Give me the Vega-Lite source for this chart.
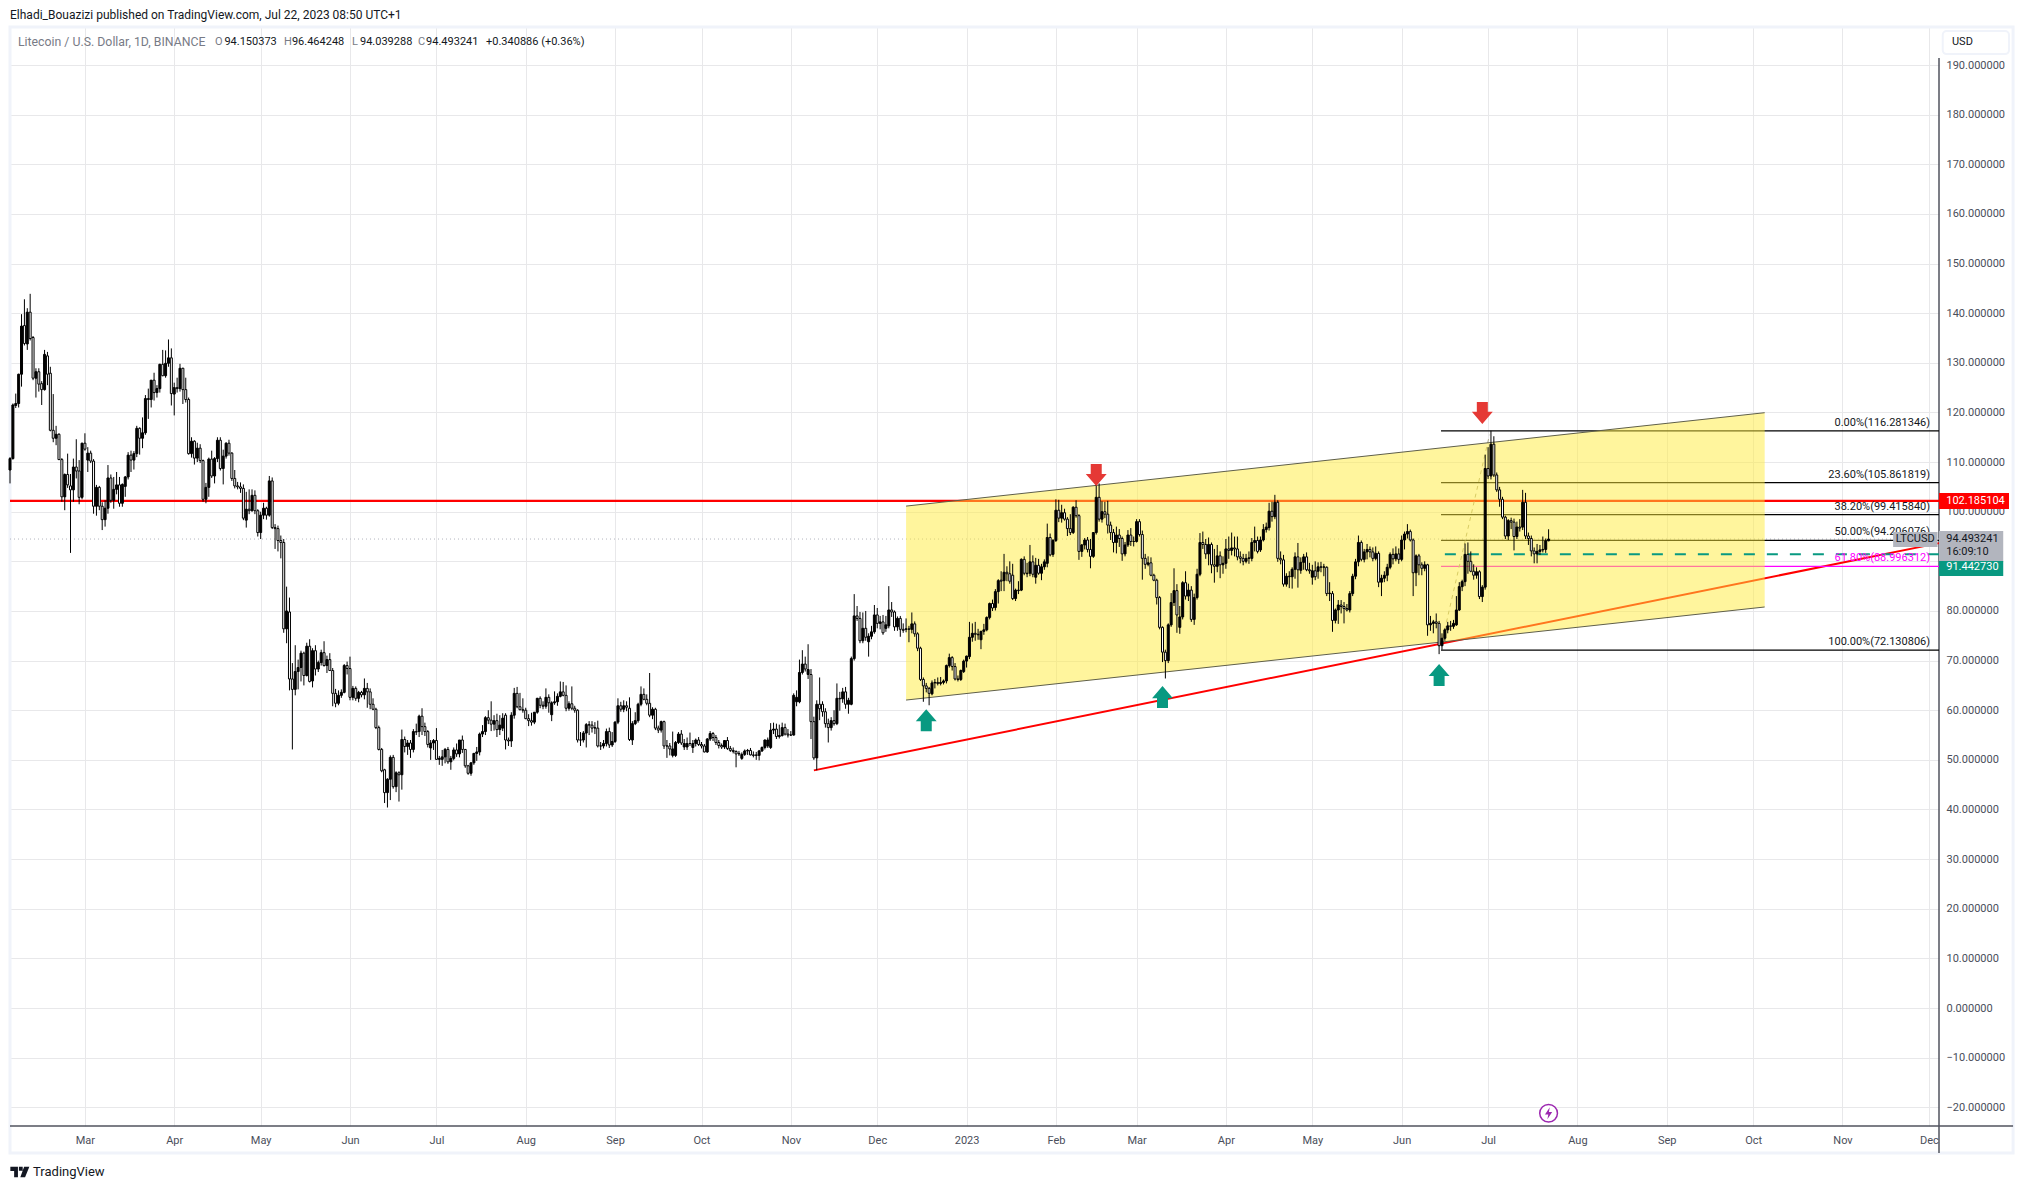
{"$schema":"https://vega.github.io/schema/vega-lite/v6.json","autosize":{"type":"none"},"padding":{"left":10,"top":27,"right":84,"bottom":63},"width":1929,"height":1099,"background":"#ffffff","view":{"stroke":null},"title":{"text":"Elhadi_Bouazizi published on TradingView.com, Jul 22, 2023 08:50 UTC+1","anchor":"start","frame":"group","offset":4,"font":"Roboto","fontSize":12,"fontWeight":"normal","color":"#131722"},"config":{"font":"Roboto"},
"datasets":{
"frame":[{"date":"2022-02-03","date2":"2023-12-30T05:00:00Z","price":197.66,"price2":-29.2}],
"axisLines":[{"date":"2023-12-04T12:00:00Z","date2":"2023-12-04T12:00:00Z","price":191.4,"price2":-29.2},{"date":"2022-02-03","date2":"2023-12-30T05:00:00Z","price":-23.77,"price2":-23.77}],
"hlines":[{"line":"last","date":"2022-02-03","date2":"2023-12-04T12:00:00Z","price":94.493241}],
"resistance":[{"date":"2022-02-03","date2":"2023-12-04T12:00:00Z","price":102.185104}],
"trend":[{"date":"2022-11-09","price":47.88},{"date":"2023-12-04T12:00:00Z","price":93.67}],
"fib":[{"level":"0.00%","date":"2023-06-14T16:00:00Z","date2":"2023-12-04T12:00:00Z","price":116.281346,"labelDate":"2023-12-01T10:00:00Z","label":"0.00%(116.281346)"},{"level":"23.60%","date":"2023-06-14T16:00:00Z","date2":"2023-12-04T12:00:00Z","price":105.861819,"labelDate":"2023-12-01T10:00:00Z","label":"23.60%(105.861819)"},{"level":"38.20%","date":"2023-06-14T16:00:00Z","date2":"2023-12-04T12:00:00Z","price":99.41584,"labelDate":"2023-12-01T10:00:00Z","label":"38.20%(99.415840)"},{"level":"50.00%","date":"2023-06-14T16:00:00Z","date2":"2023-12-04T12:00:00Z","price":94.206076,"labelDate":"2023-12-01T10:00:00Z","label":"50.00%(94.206076)"},{"level":"61.80%","date":"2023-06-14T16:00:00Z","date2":"2023-12-04T12:00:00Z","price":88.996312,"labelDate":"2023-12-01T10:00:00Z","label":"61.80%(88.996312)"},{"level":"100.00%","date":"2023-06-14T16:00:00Z","date2":"2023-12-04T12:00:00Z","price":72.130806,"labelDate":"2023-12-01T10:00:00Z","label":"100.00%(72.130806)"}],
"diag":[{"date":"2023-06-14T16:00:00Z","price":73},{"date":"2023-07-01T12:00:00Z","price":115.5}],
"channel":[{"date":"2022-12-11","lower":62.05,"upper":101.13},{"date":"2023-10-05","lower":80.8,"upper":119.95}],
"alert":[{"date":"2023-06-16","date2":"2023-12-04T12:00:00Z","price":91.44273}],
"upArrows":[{"date":"2022-12-18","price":58},{"date":"2023-03-10","price":62.66},{"date":"2023-06-14","price":67.1}],
"downArrows":[{"date":"2023-02-15","price":107.4},{"date":"2023-06-29","price":119.9}],
"tagBoxes":[{"tag":"red","date":"2023-12-04T12:00:00Z","date2":"2023-12-28T19:00:00Z","price":103.76,"price2":100.54},{"tag":"grey","date":"2023-12-04T12:00:00Z","date2":"2023-12-26T19:00:00Z","price":96.1,"price2":89.86},{"tag":"green","date":"2023-12-04T12:00:00Z","date2":"2023-12-26T19:00:00Z","price":90.06,"price2":87.04},{"tag":"grey","date":"2023-11-18T14:00:00Z","date2":"2023-12-04T00:00:00Z","price":95.9,"price2":92.88}],
"tagTexts":[{"tag":"white","date":"2023-12-07","price":102.15,"text":"102.185104"},{"tag":"dark","date":"2023-12-07","price":94.49,"text":"94.493241"},{"tag":"dark","date":"2023-12-07","price":91.87,"text":"16:09:10"},{"tag":"white","date":"2023-12-07","price":88.9,"text":"91.442730"}],
"symbolTag":[{"date":"2023-11-26T06:00:00Z","price":94.4,"text":"LTCUSD"}],
"usdBox":[{"date":"2023-12-05T19:00:00Z","date2":"2023-12-28T19:00:00Z","price":196.85,"price2":192.2}],
"usdText":[{"date":"2023-12-09","price":194.6,"text":"USD"}],
"header":[{"kind":"label","date":"2022-02-05T18:00:00Z","price":194.7,"text":"Litecoin / U.S. Dollar, 1D, BINANCE"},{"kind":"label","date":"2022-04-15T03:00:00Z","price":194.7,"text":"O"},{"kind":"value","date":"2022-04-18T10:00:00Z","price":194.7,"text":"94.150373"},{"kind":"label","date":"2022-05-09T02:00:00Z","price":194.7,"text":"H"},{"kind":"value","date":"2022-05-11T20:00:00Z","price":194.7,"text":"96.464248"},{"kind":"label","date":"2022-06-01T17:00:00Z","price":194.7,"text":"L"},{"kind":"value","date":"2022-06-04T11:00:00Z","price":194.7,"text":"94.039288"},{"kind":"label","date":"2022-06-24T14:00:00Z","price":194.7,"text":"C"},{"kind":"value","date":"2022-06-27T10:00:00Z","price":194.7,"text":"94.493241"},{"kind":"value","date":"2022-07-18T05:00:00Z","price":194.7,"text":"+0.340886 (+0.36%)"}],
"brandText":[{"date":"2022-02-11","price":-33.05,"text":"TradingView"}],
"brandLogo":[{"date":"2022-02-06T10:00:00Z","price":-33.05}],
"bolt":[{"date":"2023-07-22","price":-21.2}],
"candles":[
{"date":"2022-02-03","o":108.4,"h":111,"l":105.7,"c":110.7},{"date":"2022-02-04","o":110.7,"h":121.8,"l":110.5,"c":121.5},{"date":"2022-02-05","o":121.4,"h":123.8,"l":120.9,"c":121.8},{"date":"2022-02-06","o":121.8,"h":127.8,"l":121,"c":127.7},{"date":"2022-02-07","o":127.7,"h":139.8,"l":125.2,"c":137.4},{"date":"2022-02-08","o":137.5,"h":142.8,"l":133.5,"c":133.9},{"date":"2022-02-09","o":133.8,"h":141,"l":132.6,"c":140.2},{"date":"2022-02-10","o":140.2,"h":143.9,"l":134.5,"c":134.9},{"date":"2022-02-11","o":135.1,"h":135.4,"l":126.5,"c":126.9},{"date":"2022-02-12","o":126.9,"h":128.9,"l":123,"c":128.2},{"date":"2022-02-13","o":128.2,"h":128.9,"l":124.2,"c":125.7},{"date":"2022-02-14","o":125.8,"h":126.3,"l":121.5,"c":124.6},{"date":"2022-02-15","o":124.6,"h":132.6,"l":124.4,"c":131.7},{"date":"2022-02-16","o":131.4,"h":132.2,"l":125.5,"c":127.7},{"date":"2022-02-17","o":127.9,"h":129.2,"l":116.2,"c":116.4},{"date":"2022-02-18","o":116.4,"h":123.7,"l":114,"c":114.8},{"date":"2022-02-19","o":114.8,"h":117.3,"l":113.4,"c":115.6},{"date":"2022-02-20","o":115.6,"h":115.8,"l":110.4,"c":110.5},{"date":"2022-02-21","o":110.5,"h":110.8,"l":102,"c":103},{"date":"2022-02-22","o":103,"h":107.7,"l":100.3,"c":107.5},{"date":"2022-02-23","o":107.5,"h":111.7,"l":104.8,"c":105.4},{"date":"2022-02-24","o":105.2,"h":107.6,"l":91.7,"c":104.4},{"date":"2022-02-25","o":104.4,"h":110.7,"l":102,"c":109},{"date":"2022-02-26","o":109,"h":114.6,"l":106.7,"c":108.2},{"date":"2022-02-27","o":108.2,"h":110.4,"l":101.5,"c":102.9},{"date":"2022-02-28","o":102.9,"h":113.9,"l":102.5,"c":113.8},
{"date":"2022-03-01","o":113.8,"h":115.8,"l":112.3,"c":112.6},{"date":"2022-03-02","o":110.4,"h":113,"l":108,"c":111.8},{"date":"2022-03-03","o":111.8,"h":112.3,"l":109.8,"c":110.2},{"date":"2022-03-04","o":110.2,"h":110.6,"l":99.6,"c":101.1},{"date":"2022-03-05","o":101.1,"h":105.4,"l":99.2,"c":104.9},{"date":"2022-03-06","o":104.9,"h":105.2,"l":100.3,"c":101.1},{"date":"2022-03-07","o":101.1,"h":101.9,"l":96.3,"c":98.4},{"date":"2022-03-08","o":98.4,"h":102.3,"l":97,"c":100.7},{"date":"2022-03-09","o":100.7,"h":109.4,"l":99.6,"c":106.8},{"date":"2022-03-10","o":106.8,"h":107.5,"l":101.8,"c":102.3},{"date":"2022-03-11","o":102.3,"h":107,"l":100.6,"c":104.5},{"date":"2022-03-12","o":104.5,"h":108,"l":103.5,"c":105.4},{"date":"2022-03-13","o":105.4,"h":107,"l":101,"c":101.7},{"date":"2022-03-14","o":101.7,"h":105.7,"l":101,"c":105.5},{"date":"2022-03-15","o":105.1,"h":107.2,"l":103,"c":107},{"date":"2022-03-16","o":107,"h":112,"l":106.5,"c":111.4},{"date":"2022-03-17","o":111.4,"h":112.3,"l":108,"c":110.4},{"date":"2022-03-18","o":110.4,"h":112.2,"l":108.5,"c":111.7},{"date":"2022-03-19","o":111.7,"h":117.3,"l":111,"c":116.8},{"date":"2022-03-20","o":116.8,"h":117,"l":111.5,"c":114.8},{"date":"2022-03-21","o":114.8,"h":119,"l":112.8,"c":115.9},{"date":"2022-03-22","o":115.9,"h":123.5,"l":115.5,"c":122.8},{"date":"2022-03-23","o":122.8,"h":124.8,"l":118.7,"c":122.6},{"date":"2022-03-24","o":122.6,"h":126.5,"l":121,"c":126.5},{"date":"2022-03-25","o":126.5,"h":128,"l":122.4,"c":124},{"date":"2022-03-26","o":124,"h":125.5,"l":123,"c":124.8},{"date":"2022-03-27","o":124.8,"h":129.8,"l":124,"c":129.7},{"date":"2022-03-28","o":129.7,"h":132.6,"l":127.3,"c":127.4},{"date":"2022-03-29","o":127.4,"h":132.5,"l":127,"c":129.9},{"date":"2022-03-30","o":129.9,"h":134.7,"l":129.2,"c":131},{"date":"2022-03-31","o":131,"h":132.9,"l":121.4,"c":123.8},
{"date":"2022-04-01","o":123.7,"h":126,"l":119.4,"c":125},{"date":"2022-04-02","o":125,"h":127,"l":124,"c":124.8},{"date":"2022-04-03","o":124.8,"h":129.8,"l":124.2,"c":128.9},{"date":"2022-04-04","o":128.9,"h":129,"l":121.7,"c":124.6},{"date":"2022-04-05","o":124.6,"h":127,"l":122,"c":122.6},{"date":"2022-04-06","o":122.6,"h":123,"l":111.5,"c":111.7},{"date":"2022-04-07","o":111.7,"h":115,"l":110.9,"c":114.2},{"date":"2022-04-08","o":114.2,"h":114.4,"l":109.5,"c":110.8},{"date":"2022-04-09","o":110.8,"h":113.9,"l":110,"c":112.8},{"date":"2022-04-10","o":112.8,"h":113.6,"l":109.8,"c":110.3},{"date":"2022-04-11","o":110.3,"h":110.5,"l":102,"c":102.5},{"date":"2022-04-12","o":102.5,"h":105.8,"l":101.7,"c":104.9},{"date":"2022-04-13","o":104.9,"h":110.9,"l":103,"c":110.6},{"date":"2022-04-14","o":110.6,"h":112.3,"l":106.8,"c":107.2},{"date":"2022-04-15","o":107.2,"h":111,"l":105.7,"c":110.7},{"date":"2022-04-16","o":110.7,"h":115,"l":110,"c":114.4},{"date":"2022-04-17","o":114.4,"h":115,"l":108.3,"c":108.7},{"date":"2022-04-18","o":108.7,"h":112.5,"l":105.5,"c":111.2},{"date":"2022-04-19","o":111.2,"h":114,"l":110.7,"c":113.8},{"date":"2022-04-20","o":113.8,"h":114.5,"l":111.3,"c":111.8},{"date":"2022-04-21","o":111.8,"h":112,"l":106.2,"c":106.7},{"date":"2022-04-22","o":106.7,"h":108.4,"l":104.7,"c":105.2},{"date":"2022-04-23","o":105.2,"h":106,"l":104.5,"c":105},{"date":"2022-04-24","o":105,"h":105.9,"l":103.8,"c":104.7},{"date":"2022-04-25","o":104.7,"h":105.5,"l":98.3,"c":98.7},{"date":"2022-04-26","o":98.3,"h":104,"l":96.8,"c":100.5},{"date":"2022-04-27","o":100.5,"h":104.5,"l":99.5,"c":100.2},{"date":"2022-04-28","o":100.2,"h":104.5,"l":100,"c":103.3},{"date":"2022-04-29","o":103.3,"h":104.3,"l":99.5,"c":100.2},{"date":"2022-04-30","o":100.2,"h":100.5,"l":95,"c":95.8},
{"date":"2022-05-01","o":95.8,"h":100,"l":94.5,"c":99.3},{"date":"2022-05-02","o":99.3,"h":101.8,"l":98.5,"c":100.7},{"date":"2022-05-03","o":100.7,"h":101,"l":98.4,"c":99.3},{"date":"2022-05-04","o":99.3,"h":107.2,"l":99,"c":106.2},{"date":"2022-05-05","o":106.2,"h":106.9,"l":96.5,"c":96.8},{"date":"2022-05-06","o":96.8,"h":97.5,"l":92.5,"c":96.6},{"date":"2022-05-07","o":96.6,"h":97.2,"l":92,"c":94.2},{"date":"2022-05-08","o":94.2,"h":95.2,"l":90.6,"c":93.8},{"date":"2022-05-09","o":93.8,"h":94.5,"l":75.6,"c":76.4},{"date":"2022-05-10","o":76.4,"h":84.9,"l":73.5,"c":80},{"date":"2022-05-11","o":79.8,"h":82.7,"l":64,"c":66.3},{"date":"2022-05-12","o":66.3,"h":69.5,"l":52.1,"c":64.2},{"date":"2022-05-13","o":64.2,"h":73.1,"l":63,"c":67.8},{"date":"2022-05-14","o":67.8,"h":70.2,"l":64.2,"c":68.6},{"date":"2022-05-15","o":68.6,"h":72,"l":65.8,"c":71.5},{"date":"2022-05-16","o":71.5,"h":71.8,"l":65,"c":67},{"date":"2022-05-17","o":67,"h":73.6,"l":66.8,"c":72.9},{"date":"2022-05-18","o":72.9,"h":74.3,"l":65.6,"c":65.8},{"date":"2022-05-19","o":65.9,"h":72.5,"l":64.6,"c":72},{"date":"2022-05-20","o":72,"h":73.1,"l":67,"c":68.3},{"date":"2022-05-21","o":68.3,"h":70,"l":67.7,"c":69.6},{"date":"2022-05-22","o":69.6,"h":72.2,"l":69,"c":71.6},{"date":"2022-05-23","o":71.6,"h":73.9,"l":68.8,"c":69},{"date":"2022-05-24","o":69,"h":71,"l":67.5,"c":70.2},{"date":"2022-05-25","o":70.2,"h":71.5,"l":67.9,"c":68},{"date":"2022-05-26","o":68,"h":68.5,"l":60.8,"c":63.4},{"date":"2022-05-27","o":63.4,"h":64.3,"l":60.6,"c":61.4},{"date":"2022-05-28","o":61.4,"h":64,"l":61,"c":63},{"date":"2022-05-29","o":63,"h":64.2,"l":62.5,"c":63.6},{"date":"2022-05-30","o":63.6,"h":69.3,"l":63.4,"c":69},{"date":"2022-05-31","o":69,"h":69.8,"l":67.2,"c":68.4},
{"date":"2022-06-01","o":68.4,"h":70.8,"l":62,"c":62.6},{"date":"2022-06-02","o":62.6,"h":64.9,"l":62,"c":64.4},{"date":"2022-06-03","o":64.4,"h":64.8,"l":61.9,"c":62.4},{"date":"2022-06-04","o":62.4,"h":63.9,"l":61.6,"c":63.6},{"date":"2022-06-05","o":63.6,"h":63.9,"l":62.6,"c":63.1},{"date":"2022-06-06","o":63.1,"h":66.4,"l":62.2,"c":64.4},{"date":"2022-06-07","o":64.4,"h":65.5,"l":60.5,"c":63.7},{"date":"2022-06-08","o":63.7,"h":64.4,"l":60.2,"c":61.2},{"date":"2022-06-09","o":61.2,"h":62.4,"l":60,"c":60.2},{"date":"2022-06-10","o":60.2,"h":60.5,"l":56.2,"c":56.5},{"date":"2022-06-11","o":56.5,"h":56.9,"l":51.9,"c":52.1},{"date":"2022-06-12","o":52.1,"h":52.4,"l":47.5,"c":47.8},{"date":"2022-06-13","o":48,"h":48.2,"l":41.3,"c":43.4},{"date":"2022-06-14","o":43.4,"h":46.3,"l":40.4,"c":46.1},{"date":"2022-06-15","o":46.1,"h":50.9,"l":41.9,"c":50.5},{"date":"2022-06-16","o":50.5,"h":51,"l":44.2,"c":44.6},{"date":"2022-06-17","o":44.6,"h":47.7,"l":43.5,"c":47.4},{"date":"2022-06-18","o":47.4,"h":47.7,"l":41.6,"c":47},{"date":"2022-06-19","o":47,"h":56.1,"l":44,"c":54.1},{"date":"2022-06-20","o":54.1,"h":54.7,"l":51.5,"c":52.7},{"date":"2022-06-21","o":52.7,"h":54,"l":51,"c":53.4},{"date":"2022-06-22","o":53.4,"h":54,"l":50.4,"c":52.1},{"date":"2022-06-23","o":52.1,"h":56.2,"l":51.5,"c":55.7},{"date":"2022-06-24","o":55.7,"h":57.3,"l":55,"c":55.6},{"date":"2022-06-25","o":55.7,"h":59.1,"l":54.6,"c":58.8},{"date":"2022-06-26","o":58.8,"h":60.4,"l":55,"c":56.7},{"date":"2022-06-27","o":56.7,"h":57.5,"l":54.8,"c":55.7},{"date":"2022-06-28","o":55.7,"h":56,"l":52.5,"c":53.1},{"date":"2022-06-29","o":52.4,"h":54,"l":50,"c":53.4},{"date":"2022-06-30","o":53.4,"h":54.2,"l":52,"c":53.9},
{"date":"2022-07-01","o":53.9,"h":56.4,"l":50,"c":50.1},{"date":"2022-07-02","o":50.1,"h":50.8,"l":49,"c":50.3},{"date":"2022-07-03","o":50.1,"h":52,"l":48.8,"c":50.6},{"date":"2022-07-04","o":50.6,"h":52.4,"l":49.3,"c":52.1},{"date":"2022-07-05","o":52.1,"h":52.6,"l":49.2,"c":49.6},{"date":"2022-07-06","o":49.6,"h":50.8,"l":48,"c":50.3},{"date":"2022-07-07","o":50.3,"h":52.5,"l":49.9,"c":52},{"date":"2022-07-08","o":52,"h":53.3,"l":50.6,"c":51.2},{"date":"2022-07-09","o":51.2,"h":54,"l":50.5,"c":54},{"date":"2022-07-10","o":54,"h":54.9,"l":51.4,"c":52.1},{"date":"2022-07-11","o":52.1,"h":52.2,"l":48.4,"c":48.8},{"date":"2022-07-12","o":48.8,"h":49,"l":47,"c":47.3},{"date":"2022-07-13","o":47.3,"h":49.5,"l":46.8,"c":49.4},{"date":"2022-07-14","o":49.4,"h":51.4,"l":49,"c":51.3},{"date":"2022-07-15","o":51.3,"h":52.6,"l":49.8,"c":51.6},{"date":"2022-07-16","o":51.6,"h":55.5,"l":50.9,"c":55.2},{"date":"2022-07-17","o":55.2,"h":57,"l":54.6,"c":55.7},{"date":"2022-07-18","o":55.7,"h":58.8,"l":55,"c":58.5},{"date":"2022-07-19","o":58.5,"h":60,"l":57.2,"c":58},{"date":"2022-07-20","o":58,"h":61.8,"l":55.8,"c":57.2},{"date":"2022-07-21","o":57.2,"h":59,"l":55.9,"c":57.9},{"date":"2022-07-22","o":57.9,"h":59.3,"l":54.6,"c":56.1},{"date":"2022-07-23","o":56.1,"h":59,"l":55,"c":57},{"date":"2022-07-24","o":56.4,"h":59.4,"l":55.8,"c":58.4},{"date":"2022-07-25","o":59,"h":59.4,"l":52.1,"c":54},{"date":"2022-07-26","o":54,"h":54.5,"l":52.8,"c":53.8},{"date":"2022-07-27","o":53.8,"h":59.6,"l":52.6,"c":59},{"date":"2022-07-28","o":59,"h":64.5,"l":58.3,"c":63.4},{"date":"2022-07-29","o":63.4,"h":64.7,"l":60.4,"c":60.7},{"date":"2022-07-30","o":60.7,"h":63.5,"l":60,"c":60.1},{"date":"2022-07-31","o":60.1,"h":62.4,"l":59.5,"c":60},
{"date":"2022-08-01","o":60,"h":60.5,"l":58.2,"c":58.3},{"date":"2022-08-02","o":58.3,"h":59.2,"l":56.8,"c":57.9},{"date":"2022-08-03","o":57.9,"h":59.5,"l":56.9,"c":57.6},{"date":"2022-08-04","o":57.6,"h":59.6,"l":57.2,"c":59.6},{"date":"2022-08-05","o":59.6,"h":62.5,"l":59.3,"c":62.4},{"date":"2022-08-06","o":62.4,"h":62.8,"l":60.4,"c":61},{"date":"2022-08-07","o":61,"h":61.8,"l":60.2,"c":60.8},{"date":"2022-08-08","o":60.8,"h":64.4,"l":60.3,"c":62.6},{"date":"2022-08-09","o":62.6,"h":63.2,"l":59.5,"c":61.5},{"date":"2022-08-10","o":59.1,"h":61.8,"l":57.8,"c":61.5},{"date":"2022-08-11","o":61.5,"h":63.8,"l":61.1,"c":61.7},{"date":"2022-08-12","o":61.7,"h":63.4,"l":60.9,"c":62.8},{"date":"2022-08-13","o":62.8,"h":65.8,"l":62.6,"c":63.7},{"date":"2022-08-14","o":63.7,"h":65.7,"l":62.8,"c":63},{"date":"2022-08-15","o":63,"h":65,"l":59.8,"c":60.4},{"date":"2022-08-16","o":60.4,"h":61.8,"l":59.9,"c":61.3},{"date":"2022-08-17","o":61.3,"h":64.8,"l":60,"c":60.4},{"date":"2022-08-18","o":60.4,"h":60.9,"l":59.5,"c":60},{"date":"2022-08-19","o":60,"h":60.2,"l":53.5,"c":54},{"date":"2022-08-20","o":54,"h":55.6,"l":52.8,"c":54},{"date":"2022-08-21","o":54,"h":55.8,"l":53.5,"c":55.4},{"date":"2022-08-22","o":55.4,"h":57.4,"l":52.5,"c":57.1},{"date":"2022-08-23","o":57.1,"h":57.8,"l":55,"c":57},{"date":"2022-08-24","o":57,"h":57.8,"l":55.5,"c":56.4},{"date":"2022-08-25","o":56.4,"h":57.6,"l":55.2,"c":56.5},{"date":"2022-08-26","o":56.4,"h":57.9,"l":52.5,"c":52.8},{"date":"2022-08-27","o":52.8,"h":53.6,"l":52,"c":52.8},{"date":"2022-08-28","o":52.8,"h":54,"l":52.3,"c":53.3},{"date":"2022-08-29","o":53.3,"h":56.3,"l":52.7,"c":55.7},{"date":"2022-08-30","o":55.7,"h":56.5,"l":52.4,"c":53},{"date":"2022-08-31","o":53,"h":55.6,"l":52.6,"c":53.7},
{"date":"2022-09-01","o":53.7,"h":57.8,"l":53.4,"c":57.6},{"date":"2022-09-02","o":57.6,"h":62.4,"l":57.2,"c":60.9},{"date":"2022-09-03","o":60.9,"h":61.7,"l":59.7,"c":60.2},{"date":"2022-09-04","o":60.2,"h":62,"l":59.6,"c":60.9},{"date":"2022-09-05","o":60.9,"h":61.8,"l":59.8,"c":60.6},{"date":"2022-09-06","o":60.4,"h":62.6,"l":53.8,"c":54.1},{"date":"2022-09-07","o":54,"h":57.8,"l":53,"c":57.3},{"date":"2022-09-08","o":57.3,"h":59.6,"l":57,"c":57.9},{"date":"2022-09-09","o":57.9,"h":61.5,"l":57.5,"c":61.2},{"date":"2022-09-10","o":61.2,"h":64.8,"l":60.8,"c":63.2},{"date":"2022-09-11","o":63.2,"h":64.4,"l":62,"c":62.2},{"date":"2022-09-12","o":62.2,"h":63.2,"l":61,"c":61.4},{"date":"2022-09-13","o":61.4,"h":67.5,"l":58.6,"c":59},{"date":"2022-09-14","o":59,"h":60.6,"l":58.2,"c":60.2},{"date":"2022-09-15","o":60.2,"h":60.5,"l":56,"c":56.4},{"date":"2022-09-16","o":56.4,"h":56.9,"l":55.4,"c":56},{"date":"2022-09-17","o":56,"h":57.9,"l":55.5,"c":57.7},{"date":"2022-09-18","o":57.7,"h":57.9,"l":52.2,"c":52.8},{"date":"2022-09-19","o":52.8,"h":54,"l":50.4,"c":52.8},{"date":"2022-09-20","o":52.8,"h":53.4,"l":50.9,"c":52.2},{"date":"2022-09-21","o":50.9,"h":55.7,"l":50.5,"c":52.2},{"date":"2022-09-22","o":50.9,"h":53.8,"l":50.6,"c":53.5},{"date":"2022-09-23","o":53.5,"h":55.6,"l":53.2,"c":55.2},{"date":"2022-09-24","o":55.2,"h":56,"l":53,"c":53.4},{"date":"2022-09-25","o":52.6,"h":54.2,"l":52,"c":53.3},{"date":"2022-09-26","o":52.6,"h":54.5,"l":52,"c":53.3},{"date":"2022-09-27","o":53.3,"h":55.5,"l":52.8,"c":53.3},{"date":"2022-09-28","o":52.5,"h":54,"l":51.4,"c":53.3},{"date":"2022-09-29","o":53.3,"h":54.3,"l":52.7,"c":54},{"date":"2022-09-30","o":54,"h":54.6,"l":52.8,"c":53.1},
{"date":"2022-10-01","o":53.1,"h":53.6,"l":52.3,"c":52.8},{"date":"2022-10-02","o":52.8,"h":53.2,"l":51.5,"c":51.6},{"date":"2022-10-03","o":51.6,"h":54.4,"l":51.4,"c":54.2},{"date":"2022-10-04","o":54.2,"h":55.8,"l":53.8,"c":55.3},{"date":"2022-10-05","o":55.3,"h":55.6,"l":53.8,"c":54.5},{"date":"2022-10-06","o":54.5,"h":55,"l":53,"c":53.5},{"date":"2022-10-07","o":53.5,"h":54,"l":52.3,"c":52.9},{"date":"2022-10-08","o":52.9,"h":53.3,"l":52.2,"c":52.6},{"date":"2022-10-09","o":52.6,"h":54,"l":52.2,"c":53.9},{"date":"2022-10-10","o":53.9,"h":54.6,"l":52,"c":52.3},{"date":"2022-10-11","o":52.3,"h":52.8,"l":51.6,"c":51.9},{"date":"2022-10-12","o":51.9,"h":52.5,"l":51.3,"c":51.7},{"date":"2022-10-13","o":51.7,"h":51.9,"l":48.5,"c":51.2},{"date":"2022-10-14","o":51.2,"h":51.8,"l":50.8,"c":51.3},{"date":"2022-10-15","o":50.3,"h":51.5,"l":50,"c":51.1},{"date":"2022-10-16","o":51.1,"h":52.1,"l":50.8,"c":51.8},{"date":"2022-10-17","o":51.8,"h":52.2,"l":51,"c":51.9},{"date":"2022-10-18","o":51.9,"h":52.4,"l":50.9,"c":51},{"date":"2022-10-19","o":51,"h":51.7,"l":50.5,"c":50.9},{"date":"2022-10-20","o":51,"h":51.6,"l":50,"c":50.9},{"date":"2022-10-21","o":50.9,"h":52,"l":49.9,"c":51.8},{"date":"2022-10-22","o":51.8,"h":52.7,"l":51.6,"c":52.5},{"date":"2022-10-23","o":52.5,"h":54.1,"l":52.1,"c":54},{"date":"2022-10-24","o":52.8,"h":54.5,"l":52.4,"c":54},{"date":"2022-10-25","o":52.5,"h":57.4,"l":52.2,"c":56},{"date":"2022-10-26","o":56,"h":57.5,"l":55.2,"c":56.2},{"date":"2022-10-27","o":56.2,"h":57.3,"l":54.2,"c":54.7},{"date":"2022-10-28","o":54.7,"h":57.1,"l":54.3,"c":54.9},{"date":"2022-10-29","o":54.9,"h":57.5,"l":54.7,"c":56.5},{"date":"2022-10-30","o":56.5,"h":57.3,"l":54.9,"c":55.2},{"date":"2022-10-31","o":55.2,"h":56.2,"l":54.5,"c":55},
{"date":"2022-11-01","o":55,"h":55.8,"l":54.8,"c":55},{"date":"2022-11-02","o":55,"h":63.4,"l":54.9,"c":63},{"date":"2022-11-03","o":61.7,"h":64,"l":60.8,"c":62.6},{"date":"2022-11-04","o":61.7,"h":70.2,"l":61.4,"c":67.6},{"date":"2022-11-05","o":67.6,"h":72.1,"l":67.2,"c":69.3},{"date":"2022-11-06","o":69.3,"h":70.8,"l":67.8,"c":68.3},{"date":"2022-11-07","o":67.2,"h":73.3,"l":66.3,"c":68.2},{"date":"2022-11-08","o":67.2,"h":68.3,"l":54.2,"c":57.7},{"date":"2022-11-09","o":57.7,"h":58.7,"l":50,"c":50.4},{"date":"2022-11-10","o":50.4,"h":62,"l":47.9,"c":61.2},{"date":"2022-11-11","o":61.2,"h":66.6,"l":58,"c":60.3},{"date":"2022-11-12","o":61.2,"h":61.8,"l":58.7,"c":59.7},{"date":"2022-11-13","o":59.7,"h":60.4,"l":56.5,"c":57.3},{"date":"2022-11-14","o":57.3,"h":58.3,"l":53.5,"c":56.5},{"date":"2022-11-15","o":56.5,"h":58.6,"l":55.9,"c":57.9},{"date":"2022-11-16","o":57.9,"h":60,"l":56.9,"c":57.3},{"date":"2022-11-17","o":57.3,"h":65.4,"l":57,"c":62.4},{"date":"2022-11-18","o":62.4,"h":63.7,"l":59.9,"c":62.3},{"date":"2022-11-19","o":62.3,"h":64.5,"l":61.5,"c":63.7},{"date":"2022-11-20","o":63.7,"h":64.7,"l":60.3,"c":61.2},{"date":"2022-11-21","o":61.2,"h":62.5,"l":59.3,"c":62},{"date":"2022-11-22","o":61.2,"h":70.8,"l":61,"c":70.4},{"date":"2022-11-23","o":70.4,"h":83.4,"l":70,"c":79},{"date":"2022-11-24","o":79,"h":81,"l":78,"c":78.5},{"date":"2022-11-25","o":78.5,"h":79.8,"l":73.5,"c":74},{"date":"2022-11-26","o":74,"h":79.7,"l":73.5,"c":76.5},{"date":"2022-11-27","o":76.5,"h":80,"l":74,"c":74.7},{"date":"2022-11-28","o":73.8,"h":75.5,"l":70.8,"c":74.9},{"date":"2022-11-29","o":74.9,"h":77,"l":74.3,"c":75.8},{"date":"2022-11-30","o":75.8,"h":81.2,"l":75.4,"c":79.2},
{"date":"2022-12-01","o":79.2,"h":80.6,"l":76.5,"c":77.5},{"date":"2022-12-02","o":77.5,"h":79,"l":76.3,"c":77.8},{"date":"2022-12-03","o":77.8,"h":79.2,"l":75.2,"c":75.6},{"date":"2022-12-04","o":76.5,"h":79,"l":75.8,"c":77.2},{"date":"2022-12-05","o":77,"h":85,"l":76.5,"c":80.2},{"date":"2022-12-06","o":80.2,"h":81.8,"l":78.8,"c":79.8},{"date":"2022-12-07","o":79.8,"h":80.1,"l":76,"c":76.8},{"date":"2022-12-08","o":76.8,"h":78.9,"l":76,"c":78.5},{"date":"2022-12-09","o":78.5,"h":79,"l":74.8,"c":76.3},{"date":"2022-12-10","o":76.3,"h":77.5,"l":75.6,"c":76.1},{"date":"2022-12-11","o":76.3,"h":78.5,"l":75.7,"c":76.4},{"date":"2022-12-12","o":76.4,"h":77,"l":73.7,"c":76.3},{"date":"2022-12-13","o":76.3,"h":79.7,"l":75.5,"c":77.4},{"date":"2022-12-14","o":77.4,"h":77.9,"l":74.8,"c":75.4},{"date":"2022-12-15","o":75.4,"h":75.7,"l":71.9,"c":72.5},{"date":"2022-12-16","o":72.5,"h":72.8,"l":65.9,"c":66.2},{"date":"2022-12-17","o":66.2,"h":66.6,"l":61.7,"c":64.9},{"date":"2022-12-18","o":64.9,"h":65.5,"l":63.6,"c":64.4},{"date":"2022-12-19","o":64.4,"h":64.7,"l":61,"c":63.4},{"date":"2022-12-20","o":63.3,"h":66,"l":63,"c":65.5},{"date":"2022-12-21","o":65.5,"h":66.3,"l":64.4,"c":65.6},{"date":"2022-12-22","o":65.6,"h":66.6,"l":65,"c":65.4},{"date":"2022-12-23","o":65.4,"h":66.7,"l":65,"c":65.6},{"date":"2022-12-24","o":65.6,"h":66.2,"l":65.2,"c":65.9},{"date":"2022-12-25","o":65.9,"h":69.2,"l":65.4,"c":69},{"date":"2022-12-26","o":69,"h":71.4,"l":68.6,"c":70.6},{"date":"2022-12-27","o":70.6,"h":70.9,"l":68,"c":68.8},{"date":"2022-12-28","o":68.8,"h":69.5,"l":66,"c":66.3},{"date":"2022-12-29","o":66.3,"h":67,"l":65.8,"c":66.2},{"date":"2022-12-30","o":66.2,"h":68.2,"l":65.9,"c":68},{"date":"2022-12-31","o":67.8,"h":70.2,"l":67.5,"c":69.9},
{"date":"2023-01-01","o":69.9,"h":71,"l":68.6,"c":70.9},{"date":"2023-01-02","o":70.8,"h":77.8,"l":70.3,"c":74.7},{"date":"2023-01-03","o":74.7,"h":77.5,"l":73.8,"c":75.5},{"date":"2023-01-04","o":75.5,"h":77.8,"l":74,"c":75.3},{"date":"2023-01-05","o":75.3,"h":76.4,"l":74.2,"c":75.2},{"date":"2023-01-06","o":74.2,"h":76,"l":72.3,"c":75.9},{"date":"2023-01-07","o":75.9,"h":77.4,"l":75.2,"c":76.2},{"date":"2023-01-08","o":76.2,"h":78.9,"l":75.9,"c":78.7},{"date":"2023-01-09","o":78.7,"h":81.7,"l":78.3,"c":81.5},{"date":"2023-01-10","o":81.5,"h":82.3,"l":80,"c":80.6},{"date":"2023-01-11","o":80.7,"h":84.4,"l":80.1,"c":83.9},{"date":"2023-01-12","o":83.9,"h":86.4,"l":81.5,"c":86.1},{"date":"2023-01-13","o":86.2,"h":88,"l":84,"c":86},{"date":"2023-01-14","o":86.1,"h":91.5,"l":84,"c":87.8},{"date":"2023-01-15","o":87.8,"h":89,"l":86,"c":87.5},{"date":"2023-01-16","o":87.5,"h":90,"l":85.5,"c":86},{"date":"2023-01-17","o":87.2,"h":89.5,"l":82.2,"c":82.5},{"date":"2023-01-18","o":82.5,"h":84.5,"l":82,"c":84.2},{"date":"2023-01-19","o":84.2,"h":86,"l":83.4,"c":84.1},{"date":"2023-01-20","o":84.2,"h":90.6,"l":84,"c":90.4},{"date":"2023-01-21","o":90.4,"h":91,"l":87.2,"c":87.6},{"date":"2023-01-22","o":87.6,"h":89.7,"l":86.8,"c":87.5},{"date":"2023-01-23","o":87.6,"h":93.3,"l":87,"c":89.9},{"date":"2023-01-24","o":89.9,"h":91.2,"l":86.8,"c":87.4},{"date":"2023-01-25","o":86.8,"h":90.7,"l":85.5,"c":89.2},{"date":"2023-01-26","o":89.2,"h":90.5,"l":87.3,"c":87.6},{"date":"2023-01-27","o":87.6,"h":89.5,"l":86.2,"c":88.9},{"date":"2023-01-28","o":88.9,"h":90.4,"l":88.3,"c":89.9},{"date":"2023-01-29","o":89.6,"h":97.6,"l":88.8,"c":94.8},{"date":"2023-01-30","o":94.8,"h":95.6,"l":91,"c":91.3},{"date":"2023-01-31","o":91.4,"h":94.5,"l":90.9,"c":94.2},
{"date":"2023-02-01","o":94.2,"h":102.5,"l":93.9,"c":100.3},{"date":"2023-02-02","o":100.3,"h":102.4,"l":97.9,"c":98.7},{"date":"2023-02-03","o":98.7,"h":101.4,"l":97.8,"c":99.8},{"date":"2023-02-04","o":99.8,"h":100.6,"l":98.2,"c":98.5},{"date":"2023-02-05","o":98.5,"h":98.9,"l":95.1,"c":96.6},{"date":"2023-02-06","o":96.6,"h":99.5,"l":95.3,"c":95.8},{"date":"2023-02-07","o":95.8,"h":101.1,"l":95.5,"c":100.9},{"date":"2023-02-08","o":100.9,"h":102.3,"l":98.8,"c":99.2},{"date":"2023-02-09","o":99.2,"h":99.5,"l":90.3,"c":92},{"date":"2023-02-10","o":92,"h":93.5,"l":90.9,"c":93.3},{"date":"2023-02-11","o":93.3,"h":94.7,"l":92.4,"c":94.3},{"date":"2023-02-12","o":94.3,"h":94.9,"l":91.8,"c":92.4},{"date":"2023-02-13","o":92.4,"h":94.5,"l":88.6,"c":91},{"date":"2023-02-14","o":91,"h":95.9,"l":90.7,"c":95.8},{"date":"2023-02-15","o":95.8,"h":105.7,"l":95.4,"c":102.9},{"date":"2023-02-16","o":102.9,"h":105.7,"l":98,"c":98.5},{"date":"2023-02-17","o":98.5,"h":102.1,"l":97.8,"c":100},{"date":"2023-02-18","o":100,"h":102,"l":98.7,"c":99.5},{"date":"2023-02-19","o":99.5,"h":102.2,"l":95.6,"c":97.3},{"date":"2023-02-20","o":97.3,"h":98,"l":94.3,"c":95.8},{"date":"2023-02-21","o":95.8,"h":96.5,"l":91.8,"c":93.8},{"date":"2023-02-22","o":93.8,"h":97,"l":91.6,"c":95.3},{"date":"2023-02-23","o":95.3,"h":96.5,"l":92.9,"c":94.6},{"date":"2023-02-24","o":94.6,"h":95,"l":90.1,"c":91.5},{"date":"2023-02-25","o":91.5,"h":93.9,"l":91,"c":93.3},{"date":"2023-02-26","o":93.3,"h":96.3,"l":92.9,"c":95.3},{"date":"2023-02-27","o":95.3,"h":96.7,"l":93.1,"c":94},{"date":"2023-02-28","o":94,"h":95,"l":93,"c":94},
{"date":"2023-03-01","o":94,"h":98.5,"l":93.8,"c":98},{"date":"2023-03-02","o":98,"h":98.5,"l":95,"c":95.4},{"date":"2023-03-03","o":95.4,"h":96.2,"l":86.3,"c":90.6},{"date":"2023-03-04","o":90.6,"h":91.5,"l":88.5,"c":89.4},{"date":"2023-03-05","o":89.4,"h":91,"l":89,"c":89.7},{"date":"2023-03-06","o":89.7,"h":90.8,"l":87,"c":87.2},{"date":"2023-03-07","o":87.2,"h":87.5,"l":86,"c":86.2},{"date":"2023-03-08","o":86.2,"h":86.5,"l":81.3,"c":82.7},{"date":"2023-03-09","o":82.7,"h":83,"l":76.3,"c":76.7},{"date":"2023-03-10","o":76.7,"h":76.9,"l":69.7,"c":71.7},{"date":"2023-03-11","o":71.7,"h":72.2,"l":66.4,"c":70},{"date":"2023-03-12","o":70,"h":77.5,"l":69.5,"c":77.2},{"date":"2023-03-13","o":77.2,"h":83.6,"l":76.8,"c":81.7},{"date":"2023-03-14","o":81.7,"h":88.6,"l":81,"c":84.1},{"date":"2023-03-15","o":84.1,"h":85.4,"l":75.6,"c":79.2},{"date":"2023-03-16","o":76.7,"h":81,"l":75.4,"c":78.8},{"date":"2023-03-17","o":78.8,"h":86,"l":78.3,"c":85.7},{"date":"2023-03-18","o":85.7,"h":88,"l":82.3,"c":83},{"date":"2023-03-19","o":83,"h":85.5,"l":82,"c":84.2},{"date":"2023-03-20","o":84.2,"h":85,"l":77.8,"c":78.3},{"date":"2023-03-21","o":78.3,"h":83.5,"l":77.2,"c":82.7},{"date":"2023-03-22","o":82.7,"h":88.5,"l":82.3,"c":87.4},{"date":"2023-03-23","o":87.4,"h":95.7,"l":87,"c":93.8},{"date":"2023-03-24","o":93.8,"h":96,"l":92.5,"c":93.4},{"date":"2023-03-25","o":93.4,"h":94.5,"l":90.5,"c":91.5},{"date":"2023-03-26","o":91.5,"h":94.8,"l":89.2,"c":93.4},{"date":"2023-03-27","o":93.4,"h":93.8,"l":87.6,"c":89.3},{"date":"2023-03-28","o":89.3,"h":92.5,"l":85.7,"c":89},{"date":"2023-03-29","o":89,"h":93.3,"l":87.8,"c":91.1},{"date":"2023-03-30","o":91.1,"h":92,"l":86.6,"c":89.3},{"date":"2023-03-31","o":89.3,"h":91,"l":87.5,"c":89.6},
{"date":"2023-04-01","o":89.6,"h":94.5,"l":88.5,"c":92.5},{"date":"2023-04-02","o":92.5,"h":95,"l":90.5,"c":92.2},{"date":"2023-04-03","o":92.2,"h":95.8,"l":91.2,"c":92.7},{"date":"2023-04-04","o":92.7,"h":95,"l":91,"c":92.5},{"date":"2023-04-05","o":92.5,"h":95,"l":90.2,"c":90.9},{"date":"2023-04-06","o":90.9,"h":92,"l":89.6,"c":90.6},{"date":"2023-04-07","o":90.6,"h":91.5,"l":89.2,"c":90},{"date":"2023-04-08","o":90,"h":91.5,"l":89.6,"c":90.6},{"date":"2023-04-09","o":90.6,"h":92,"l":89.5,"c":90.7},{"date":"2023-04-10","o":90.6,"h":94.7,"l":90,"c":93.8},{"date":"2023-04-11","o":93.8,"h":97,"l":92,"c":94.2},{"date":"2023-04-12","o":94.2,"h":95,"l":91.6,"c":92},{"date":"2023-04-13","o":92.3,"h":95,"l":91.9,"c":94.3},{"date":"2023-04-14","o":94.3,"h":97.5,"l":94,"c":96.4},{"date":"2023-04-15","o":96.4,"h":97.8,"l":95.8,"c":96.9},{"date":"2023-04-16","o":96.8,"h":101.8,"l":96.2,"c":100.1},{"date":"2023-04-17","o":100.1,"h":102,"l":98,"c":99},{"date":"2023-04-18","o":99,"h":103.4,"l":98.5,"c":101.9},{"date":"2023-04-19","o":101.9,"h":102.3,"l":89.9,"c":90.6},{"date":"2023-04-20","o":90.6,"h":92,"l":89.4,"c":90.3},{"date":"2023-04-21","o":90.3,"h":91.3,"l":84.9,"c":85.4},{"date":"2023-04-22","o":85.4,"h":87.6,"l":84.9,"c":87},{"date":"2023-04-23","o":87,"h":88,"l":84.6,"c":86.9},{"date":"2023-04-24","o":86.9,"h":88.8,"l":84.5,"c":88.4},{"date":"2023-04-25","o":88.4,"h":91.8,"l":86.5,"c":90.9},{"date":"2023-04-26","o":90.9,"h":93.7,"l":84.7,"c":88.3},{"date":"2023-04-27","o":88.2,"h":90.8,"l":87.5,"c":89.8},{"date":"2023-04-28","o":89.8,"h":91.5,"l":88.3,"c":90.9},{"date":"2023-04-29","o":90.9,"h":91.8,"l":88,"c":88.3},{"date":"2023-04-30","o":88.3,"h":89.7,"l":87.5,"c":88.1},
{"date":"2023-05-01","o":86.8,"h":89.3,"l":85.3,"c":88.1},{"date":"2023-05-02","o":88.1,"h":90,"l":86.2,"c":86.9},{"date":"2023-05-03","o":88,"h":89.8,"l":86.5,"c":88.9},{"date":"2023-05-04","o":88.9,"h":89.9,"l":87.8,"c":88.8},{"date":"2023-05-05","o":88.8,"h":89.5,"l":87,"c":88.9},{"date":"2023-05-06","o":88.8,"h":89,"l":83,"c":83.5},{"date":"2023-05-07","o":83.5,"h":85.8,"l":82,"c":83.6},{"date":"2023-05-08","o":83.5,"h":84,"l":75.8,"c":78.1},{"date":"2023-05-09","o":78.1,"h":80.5,"l":77.5,"c":80.2},{"date":"2023-05-10","o":80.2,"h":82.2,"l":77.4,"c":81.2},{"date":"2023-05-11","o":81.2,"h":82.2,"l":79.5,"c":80.9},{"date":"2023-05-12","o":80.9,"h":81.8,"l":77.5,"c":80.5},{"date":"2023-05-13","o":80.5,"h":81.4,"l":79.9,"c":80.2},{"date":"2023-05-14","o":80.2,"h":84,"l":79.7,"c":83.5},{"date":"2023-05-15","o":83.5,"h":87.5,"l":83,"c":87},{"date":"2023-05-16","o":87,"h":90.5,"l":86.4,"c":89.9},{"date":"2023-05-17","o":89.9,"h":95.2,"l":89,"c":93.8},{"date":"2023-05-18","o":93.8,"h":94.2,"l":90,"c":90.4},{"date":"2023-05-19","o":90.4,"h":92.5,"l":89.8,"c":91.9},{"date":"2023-05-20","o":91.9,"h":93.5,"l":90.4,"c":92.4},{"date":"2023-05-21","o":92.4,"h":93,"l":90.8,"c":91.9},{"date":"2023-05-22","o":91.9,"h":92.8,"l":90,"c":90.6},{"date":"2023-05-23","o":90.6,"h":93,"l":90.2,"c":91.6},{"date":"2023-05-24","o":91.6,"h":92,"l":84.8,"c":85.8},{"date":"2023-05-25","o":85.8,"h":87.3,"l":83,"c":86.6},{"date":"2023-05-26","o":86.6,"h":88,"l":85.8,"c":87.2},{"date":"2023-05-27","o":87.2,"h":89.5,"l":86,"c":88.8},{"date":"2023-05-28","o":88.8,"h":91.8,"l":88.4,"c":91.4},{"date":"2023-05-29","o":91.4,"h":92.6,"l":89.4,"c":90.5},{"date":"2023-05-30","o":90.5,"h":93,"l":90,"c":91.5},{"date":"2023-05-31","o":91.5,"h":92.6,"l":89.5,"c":90.4},
{"date":"2023-06-01","o":90.4,"h":95.2,"l":90,"c":94.3},{"date":"2023-06-02","o":94.3,"h":96,"l":92.4,"c":95.5},{"date":"2023-06-03","o":95.5,"h":97.5,"l":94.6,"c":96},{"date":"2023-06-04","o":96,"h":96.4,"l":94,"c":94.3},{"date":"2023-06-05","o":94.3,"h":94.6,"l":83,"c":87.7},{"date":"2023-06-06","o":87.7,"h":91.4,"l":85,"c":91.1},{"date":"2023-06-07","o":91.1,"h":91.5,"l":87.2,"c":89.3},{"date":"2023-06-08","o":89.3,"h":89.8,"l":87.2,"c":88.6},{"date":"2023-06-09","o":88.6,"h":90,"l":88,"c":89.3},{"date":"2023-06-10","o":89.3,"h":89.5,"l":75,"c":77.2},{"date":"2023-06-11","o":77.2,"h":79,"l":76,"c":77.5},{"date":"2023-06-12","o":77.5,"h":78.2,"l":75.5,"c":77.8},{"date":"2023-06-13","o":77.8,"h":79.5,"l":76.5,"c":77.5},{"date":"2023-06-14","o":77.5,"h":78,"l":71.3,"c":73},{"date":"2023-06-15","o":73,"h":75.5,"l":72.2,"c":74.5},{"date":"2023-06-16","o":74.5,"h":76.5,"l":74,"c":76.2},{"date":"2023-06-17","o":76.2,"h":77.8,"l":75.5,"c":77},{"date":"2023-06-18","o":77,"h":78,"l":76,"c":76.9},{"date":"2023-06-19","o":76.9,"h":78.2,"l":76.4,"c":77.5},{"date":"2023-06-20","o":77.2,"h":83,"l":77,"c":80.2},{"date":"2023-06-21","o":80.2,"h":85.8,"l":80,"c":84.9},{"date":"2023-06-22","o":84.9,"h":86.3,"l":84,"c":85.9},{"date":"2023-06-23","o":85.9,"h":93.6,"l":85,"c":91.4},{"date":"2023-06-24","o":91.4,"h":93.8,"l":87.5,"c":90},{"date":"2023-06-25","o":90,"h":92,"l":87.8,"c":88},{"date":"2023-06-26","o":88,"h":89.4,"l":86.3,"c":87.2},{"date":"2023-06-27","o":87.2,"h":88.8,"l":86.5,"c":87.9},{"date":"2023-06-28","o":87.9,"h":88.2,"l":82.4,"c":82.9},{"date":"2023-06-29","o":82.9,"h":85.2,"l":81.8,"c":84.8},{"date":"2023-06-30","o":84.8,"h":111.5,"l":84.3,"c":108.7},
{"date":"2023-07-01","o":108.7,"h":113,"l":106.6,"c":107.2},{"date":"2023-07-02","o":107.2,"h":116.3,"l":106.5,"c":113.6},{"date":"2023-07-03","o":113.6,"h":115.2,"l":107,"c":107.4},{"date":"2023-07-04","o":107.4,"h":107.9,"l":104,"c":104.4},{"date":"2023-07-05","o":104.4,"h":105,"l":101,"c":102.5},{"date":"2023-07-06","o":102.5,"h":103,"l":98.5,"c":98.9},{"date":"2023-07-07","o":98.9,"h":99.2,"l":94.5,"c":95.1},{"date":"2023-07-08","o":95.1,"h":98.5,"l":94.3,"c":98.2},{"date":"2023-07-09","o":98.2,"h":98.8,"l":96.5,"c":97.9},{"date":"2023-07-10","o":97.9,"h":98.6,"l":92.2,"c":95},{"date":"2023-07-11","o":95,"h":98,"l":94.5,"c":96.9},{"date":"2023-07-12","o":96.9,"h":98.5,"l":96,"c":96.7},{"date":"2023-07-13","o":96.9,"h":104.4,"l":96.3,"c":101.9},{"date":"2023-07-14","o":101.9,"h":103.8,"l":94.5,"c":95.1},{"date":"2023-07-15","o":95.1,"h":95.8,"l":93.3,"c":94.6},{"date":"2023-07-16","o":94.6,"h":95.2,"l":91,"c":92.1},{"date":"2023-07-17","o":92.1,"h":92.8,"l":89.6,"c":91.5},{"date":"2023-07-18","o":91.5,"h":93.5,"l":89.6,"c":92},{"date":"2023-07-19","o":92,"h":93.3,"l":91.3,"c":92.3},{"date":"2023-07-20","o":92.3,"h":95,"l":91.8,"c":92.4},{"date":"2023-07-21","o":92.4,"h":94.6,"l":91.7,"c":94.15},{"date":"2023-07-22","o":94.150373,"h":96.464248,"l":94.039288,"c":94.493241}
]},
"encoding":{
"x":{"field":"date","type":"temporal","title":null,"scale":{"type":"utc","padding":0,"domain":["2022-02-03T00:00:00Z","2023-12-04T12:00:00Z"]},"axis":{"domain":false,"ticks":false,"grid":true,"gridColor":"#e8e8ea","gridWidth":1,"tickCount":"month","labelOverlap":false,"labelFlush":false,"labelPadding":8,"labelFont":"Roboto","labelFontSize":11,"labelColor":"#4a4e5a","labelExpr":"utcmonth(datum.value)==0?utcFormat(datum.value,'%Y'):utcFormat(datum.value,'%b')"}},
"y":{"field":"price","type":"quantitative","title":null,"scale":{"domain":[-23.77,197.66],"nice":false,"zero":false},"axis":{"orient":"right","domain":false,"ticks":false,"grid":true,"gridColor":"#e8e8ea","gridWidth":1,"values":[-20,-10,0,10,20,30,40,50,60,70,80,90,100,110,120,130,140,150,160,170,180,190],"format":".6f","labelPadding":7,"labelFont":"Roboto","labelFontSize":11,"labelColor":"#4a4e5a","labelOverlap":false,"labelFlush":false}}
},
"layer":[
{"data":{"name":"frame"},"mark":{"type":"rect","fillOpacity":0,"stroke":"#f0f3fa","strokeWidth":3},"encoding":{"x2":{"field":"date2"},"y2":{"field":"price2"}}},
{"data":{"name":"axisLines"},"mark":{"type":"rule","color":"#50535e","strokeWidth":1.5},"encoding":{"x2":{"field":"date2"},"y2":{"field":"price2"}}},
{"data":{"name":"hlines"},"mark":{"type":"rule","color":"#b2b5be","strokeWidth":1,"strokeDash":[1,3]},"encoding":{"x2":{"field":"date2"}}},
{"data":{"name":"resistance"},"mark":{"type":"rule","color":"#ff0000","strokeWidth":2.4},"encoding":{"x2":{"field":"date2"}}},
{"data":{"name":"trend"},"mark":{"type":"line","color":"#ff0000","strokeWidth":2}},
{"data":{"name":"fib"},"mark":{"type":"rule","strokeWidth":1.3},"encoding":{"x2":{"field":"date2"},"color":{"condition":{"test":"datum.level=='61.80%'","value":"#ff00ff"},"value":"#000000"}}},
{"data":{"name":"diag"},"mark":{"type":"line","color":"#b0ac8c","strokeWidth":1,"strokeDash":[4,4]}},
{"data":{"name":"channel"},"mark":{"type":"area","color":"#ffeb3b","opacity":0.5},"encoding":{"y":{"field":"lower","type":"quantitative","title":null},"y2":{"field":"upper"}}},
{"data":{"name":"channel"},"mark":{"type":"line","color":"#5f5f4a","strokeWidth":1},"encoding":{"y":{"field":"lower","type":"quantitative","title":null}}},
{"data":{"name":"channel"},"mark":{"type":"line","color":"#5f5f4a","strokeWidth":1},"encoding":{"y":{"field":"upper","type":"quantitative","title":null}}},
{"data":{"name":"alert"},"mark":{"type":"rule","color":"#089981","strokeWidth":2,"strokeDash":[11,12]},"encoding":{"x2":{"field":"date2"}}},
{"data":{"name":"candles"},"mark":{"type":"rule","color":"#000000","strokeWidth":1},"encoding":{"y":{"field":"l","type":"quantitative","title":null},"y2":{"field":"h"}}},
{"data":{"name":"candles"},"mark":{"type":"bar","size":2,"stroke":"#000000","strokeWidth":1},"encoding":{"y":{"field":"o","type":"quantitative","title":null},"y2":{"field":"c"},"fill":{"condition":{"test":"datum.c>=datum.o","value":"#000000"},"value":"#ffffff"}}},
{"data":{"name":"upArrows"},"mark":{"type":"point","shape":"M0,-1 L0.95,0.1 L0.5,0.1 L0.5,1 L-0.5,1 L-0.5,0.1 L-0.95,0.1 Z","filled":true,"opacity":1,"size":484,"color":"#089981"}},
{"data":{"name":"downArrows"},"mark":{"type":"point","shape":"M0,1 L0.95,-0.1 L0.5,-0.1 L0.5,-1 L-0.5,-1 L-0.5,-0.1 L-0.95,-0.1 Z","filled":true,"opacity":1,"size":484,"color":"#e53935"}},
{"data":{"name":"fib"},"mark":{"type":"text","align":"right","baseline":"bottom","dy":-3,"font":"Roboto","fontSize":11},"encoding":{"x":{"field":"labelDate","type":"temporal","title":null},"text":{"field":"label"},"color":{"condition":{"test":"datum.level=='61.80%'","value":"#ff00ff"},"value":"#131722"}}},
{"data":{"name":"tagBoxes"},"mark":{"type":"rect"},"encoding":{"x2":{"field":"date2"},"y2":{"field":"price2"},"fill":{"condition":[{"test":"datum.tag=='red'","value":"#ff0000"},{"test":"datum.tag=='green'","value":"#089981"}],"value":"#b2b5be"}}},
{"data":{"name":"tagTexts"},"mark":{"type":"text","align":"left","baseline":"middle","font":"Roboto","fontSize":11},"encoding":{"text":{"field":"text"},"color":{"condition":{"test":"datum.tag=='white'","value":"#ffffff"},"value":"#131722"}}},
{"data":{"name":"symbolTag"},"mark":{"type":"text","align":"center","baseline":"middle","font":"Roboto","fontSize":11,"color":"#131722"},"encoding":{"text":{"field":"text"}}},
{"data":{"name":"usdBox"},"mark":{"type":"rect","fill":"#ffffff","stroke":"#f0f3fa","strokeWidth":2,"cornerRadius":4},"encoding":{"x2":{"field":"date2"},"y2":{"field":"price2"}}},
{"data":{"name":"usdText"},"mark":{"type":"text","align":"left","baseline":"middle","font":"Roboto","fontSize":11,"color":"#131722"},"encoding":{"text":{"field":"text"}}},
{"data":{"name":"header"},"mark":{"type":"text","align":"left","baseline":"middle","font":"Roboto"},"encoding":{"text":{"field":"text"},"size":{"condition":{"test":"length(datum.text)>20","value":12.3},"value":11},"color":{"condition":{"test":"datum.kind=='label'","value":"#787b86"},"value":"#131722"}}},
{"data":{"name":"brandText"},"mark":{"type":"text","align":"left","baseline":"middle","font":"Roboto","fontSize":13,"color":"#131722"},"encoding":{"text":{"field":"text"}}},
{"data":{"name":"brandLogo"},"mark":{"type":"point","shape":"M-1,-0.55 H-0.2 V0.55 H-0.6 V-0.1 H-1 Z M-0.1,-0.55 H0.3 V-0.15 H-0.1 Z M0.45,-0.55 H1 L0.55,0.55 H0.05 Z","filled":true,"opacity":1,"size":361,"color":"#131722"}},
{"data":{"name":"bolt"},"mark":{"type":"point","shape":"circle","filled":true,"fill":"#ffffff","stroke":"#9c27b0","strokeWidth":1.5,"opacity":1,"size":314}},
{"data":{"name":"bolt"},"mark":{"type":"point","shape":"M0.2,-1 L-0.6,0.2 L-0.05,0.2 L-0.2,1 L0.6,-0.2 L0.05,-0.2 Z","filled":true,"opacity":1,"size":144,"color":"#9c27b0"}}
]}
